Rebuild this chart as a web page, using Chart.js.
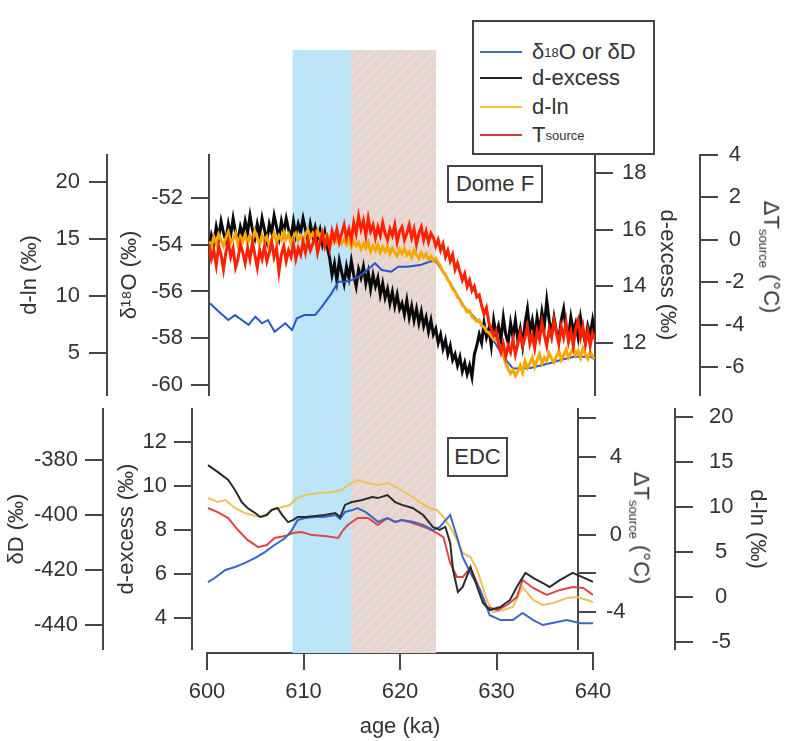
<!DOCTYPE html>
<html>
<head>
<meta charset="utf-8">
<script src="https://cdn.jsdelivr.net/npm/chart.js@4.4.1/dist/chart.umd.min.js"></script>
<style>
body { margin: 0; background: #fff; }
#wrap { position: relative; width: 789px; height: 741px; font-family: "Liberation Sans", Arial, sans-serif; color: #333; }
#wrap canvas { position: absolute; left: 0; top: 0; }
.box { position: absolute; border: 2px solid #444; background: #fff; box-sizing: border-box; font-size: 22px; }
.tag { display: flex; align-items: center; justify-content: center; }
.row { position: absolute; left: 6px; height: 26px; display: flex; align-items: center; white-space: nowrap; }
.swatch { width: 42px; height: 2px; margin-right: 10px; }
.rot { position: absolute; font-size: 22px; white-space: nowrap; transform: translate(-50%, -50%) rotate(90deg); }
sub, sup { font-size: 13px; }
</style>
</head>
<body>
<div id="wrap">
  <canvas id="bands" width="789" height="741"></canvas>
  <canvas id="edc" width="789" height="741"></canvas>
  <canvas id="domef" width="789" height="741"></canvas>

  <div class="box" style="left:472px;top:20px;width:183px;height:135px;">
    <div class="row" style="top:17px;"><div class="swatch" style="background:#3d6cc6"></div>&delta;<sup>18</sup>O or &delta;D</div>
    <div class="row" style="top:43px;"><div class="swatch" style="background:#222"></div>d-excess</div>
    <div class="row" style="top:72px;"><div class="swatch" style="background:#efc23f"></div>d-ln</div>
    <div class="row" style="top:100px;"><div class="swatch" style="background:#d23a3a"></div>T<sub>source</sub></div>
  </div>
  <div class="box tag" style="left:447px;top:165px;width:96px;height:38px;">Dome F</div>
  <div class="box tag" style="left:447px;top:437px;width:61px;height:40px;">EDC</div>
  <div class="rot" style="left:770px;top:257px;">&Delta;T<sub>source</sub> (&deg;C)</div>
  <div class="rot" style="left:640px;top:528px;">&Delta;T<sub>source</sub> (&deg;C)</div>
</div>

<script>
// shaded intervals (ka)
const BAND_START = [608.9, 614.9];
const BAND_END = [614.9, 623.7];

// ---- Dome F (top panel) ----
const DOME_AGE = [
  600, 600.25, 600.5, 600.75, 601, 601.25, 601.5, 601.75,
  602, 602.25, 602.5, 602.75, 603, 603.25, 603.5, 603.75,
  604, 604.25, 604.5, 604.75, 605, 605.25, 605.5, 605.75,
  606, 606.25, 606.5, 606.75, 607, 607.25, 607.5, 607.75,
  608, 608.25, 608.5, 608.75, 609, 609.25, 609.5, 609.75,
  610, 610.25, 610.5, 610.75, 611, 611.25, 611.5, 611.75,
  612, 612.25, 612.5, 612.75, 613, 613.25, 613.5, 613.75,
  614, 614.25, 614.5, 614.75, 615, 615.25, 615.5, 615.75,
  616, 616.25, 616.5, 616.75, 617, 617.25, 617.5, 617.75,
  618, 618.25, 618.5, 618.75, 619, 619.25, 619.5, 619.75,
  620, 620.25, 620.5, 620.75, 621, 621.25, 621.5, 621.75,
  622, 622.25, 622.5, 622.75, 623, 623.25, 623.5, 623.75,
  624, 624.25, 624.5, 624.75, 625, 625.25, 625.5, 625.75,
  626, 626.25, 626.5, 626.75, 627, 627.25, 627.5, 627.75,
  628, 628.25, 628.5, 628.75, 629, 629.25, 629.5, 629.75,
  630, 630.25, 630.5, 630.75, 631, 631.25, 631.5, 631.75,
  632, 632.25, 632.5, 632.75, 633, 633.25, 633.5, 633.75,
  634, 634.25, 634.5, 634.75, 635, 635.25, 635.5, 635.75,
  636, 636.25, 636.5, 636.75, 637, 637.25, 637.5, 637.75,
  638, 638.25, 638.5, 638.75, 639, 639.25, 639.5, 639.75,
  640];
const DOME_TSRC = [
  -0.2, -0.9, -0.5, -1.2, -0.3, -0.7, -1.4, -0.6,
  -0.1, -0.8, -0.4, -1.3, -0.9, -0.2, -0.6, -1.1,
  -0.4, -0.9, -0.1, -0.7, -1.3, -0.5, -0.9, -0.3,
  -1.0, -0.6, -0.1, -0.8, -0.4, -1.5, -0.7, -0.3,
  -1.0, -0.5, -0.8, -0.2, -0.9, -0.4, -0.7, -0.1,
  -0.6, 0.0, -0.5, -0.2, 0.2, -0.6, -0.1, 0.3,
  -0.3, 0.1, -0.4, 0.4, 0.0, 0.5, -0.1, 0.3,
  0.7, 0.1, 0.5, 0.0, 0.8, 0.3, 1.1, 0.5,
  0.9, 0.2, 1.0, 0.4, 0.7, 0.1, 0.6, 0.2,
  0.8, 0.3, 0.0, 0.5, 0.2, 0.7, -0.1, 0.4,
  0.6, 0.0, 0.3, 0.7, 0.1, 0.5, -0.2, 0.3,
  0.6, 0.0, 0.4, -0.1, 0.3, 0.1, -0.3, 0.0,
  -0.5, -0.2, -0.8, -0.5, -1.0, -0.7, -1.4, -1.1,
  -1.5, -1.9, -1.6, -2.2, -1.9, -2.4, -2.2, -2.7,
  -2.6, -3.1, -3.5, -3.2, -3.9, -4.2, -4.5, -4.3,
  -4.9, -5.3, -4.9, -5.5, -5.0, -5.3, -4.7, -5.4,
  -4.9, -4.4, -5.0, -4.6, -4.1, -4.9, -4.5, -5.1,
  -4.3, -4.7, -3.9, -4.5, -5.0, -4.2, -4.6, -3.8,
  -4.4, -4.9, -4.1, -4.6, -3.9, -4.8, -4.3, -5.0,
  -4.2, -3.8, -4.6, -4.1, -4.9, -4.3, -5.0, -4.4,
  -4.7];
const DOME_DLN = [
  14.8, 14.3, 15.2, 14.6, 15.4, 14.9, 14.4, 15.1,
  15.6, 14.7, 15.0, 15.5, 14.5, 15.2, 14.8, 15.4,
  14.6, 15.3, 14.9, 15.7, 15.1, 14.5, 15.3, 14.8,
  15.2, 14.4, 15.0, 15.5, 14.7, 15.3, 14.9, 15.6,
  15.0, 15.4, 14.6, 15.2, 15.5, 14.9, 15.3, 14.7,
  15.4, 15.8, 15.1, 15.5, 15.0, 15.7, 15.2, 15.6,
  14.9, 15.4, 15.1, 14.7, 15.3, 14.8, 15.2, 14.6,
  15.0, 14.5, 14.9, 14.3, 14.8, 14.4, 14.7, 14.1,
  14.6, 14.2, 14.7, 13.9, 14.4, 14.0, 14.5, 13.8,
  14.3, 13.9, 14.4, 13.7, 14.2, 13.8, 13.5, 14.1,
  13.7, 14.2, 13.6, 13.9, 13.4, 14.0, 13.6, 13.3,
  13.8, 13.4, 13.7, 13.2, 13.5, 13.1, 13.3, 12.9,
  12.6, 12.1, 11.9, 11.4, 11.1, 10.6, 10.4, 9.9,
  9.7, 9.2, 9.0, 8.6, 8.7, 8.2, 8.0, 7.8,
  7.9, 7.4, 7.3, 6.9, 6.8, 6.5, 6.2, 6.3,
  5.9, 5.4, 4.7, 4.1, 3.6, 3.2, 3.5, 3.0,
  3.4, 3.9, 3.3, 4.3, 3.7, 4.1, 4.6, 3.8,
  4.4, 4.9, 4.1, 4.6, 4.3, 5.0, 4.5, 4.2,
  4.7, 5.2, 4.4, 4.8, 5.3, 4.6, 5.0, 5.5,
  4.8, 5.2, 4.6, 5.4, 4.9, 4.5, 5.1, 4.7,
  4.5];
const DOME_DXS = [
  15.3, 15.8, 15.5, 16.1, 15.7, 16.3, 15.9, 15.6,
  16.2, 15.8, 16.4, 15.9, 15.6, 16.1, 15.8, 16.3,
  15.9, 16.5, 16.0, 15.7, 16.2, 15.8, 16.4, 16.0,
  15.6, 16.2, 15.9, 16.5, 16.1, 15.7, 16.3, 15.9,
  16.4, 16.0, 15.7, 16.3, 15.8, 16.2, 15.9, 16.4,
  16.0, 15.6, 16.2, 15.8, 16.1, 15.7, 16.0, 15.5,
  15.9, 15.4, 15.0, 14.4, 14.8, 14.2, 14.9, 14.5,
  14.1, 14.7, 14.3, 14.9, 14.4, 14.0, 14.6, 14.3,
  14.7, 14.1, 14.5, 13.9, 14.4, 14.0, 14.3, 13.7,
  14.1, 13.6, 13.9, 13.4, 13.8, 13.3, 13.7, 13.2,
  13.4, 13.0, 13.5, 12.9, 13.3, 12.8, 13.2, 12.7,
  13.1, 12.6, 12.9, 12.4, 12.8, 12.3, 12.5, 12.0,
  12.3, 11.8, 12.1, 11.6, 11.9, 11.4, 11.6, 11.2,
  11.5, 11.0, 11.3, 10.9, 11.2, 10.8, 11.6, 11.9,
  12.3, 12.0, 12.7, 12.2, 12.5, 11.9, 12.8, 12.3,
  12.6, 12.1, 12.9, 12.3, 12.0, 12.7, 12.2, 12.8,
  12.1, 12.5, 11.9, 12.7, 13.2, 12.4, 12.8, 12.2,
  12.9, 12.4, 13.1, 12.6, 13.5, 12.8, 12.3, 12.9,
  12.4, 12.1, 12.8, 13.2, 12.5, 12.2, 12.9, 12.4,
  12.7, 12.2, 12.9, 12.4, 12.0, 12.6, 12.3, 12.8,
  12.2];
const DOME_D18O_AGE = [600.1, 601.0, 602.0, 602.7, 603.4, 604.1, 604.8, 605.5, 606.1, 606.8,
  607.9, 608.6, 609.1, 609.9, 611.0, 611.7, 612.7, 613.4, 614.1, 614.8,
  615.5, 616.2, 617.2, 617.9, 618.9, 619.6, 620.5, 621.9, 622.9, 623.5,
  624.5, 625.5, 626.5, 627.5, 628.5, 629.5, 630.5, 631.5, 633.3, 635.3,
  636.4, 637.8, 639.5, 640.0];
const DOME_D18O = [-56.50, -56.86, -57.22, -57.01, -57.22, -57.43, -57.08, -57.36, -57.22, -57.72,
  -57.36, -57.65, -57.15, -57.01, -57.01, -56.65, -56.08, -55.58, -55.58, -55.51,
  -55.37, -55.15, -54.79, -55.08, -55.15, -54.94, -54.94, -54.87, -54.72, -54.70,
  -55.30, -56.00, -56.70, -57.10, -57.50, -58.10, -58.80, -59.30, -59.27, -59.07,
  -58.93, -58.79, -58.79, -58.90];

const DOME_D18O_TICKS = [-60, -58, -56, -54, -52];
const DOME_DLN_TICKS = [5, 10, 15, 20];
const DOME_DXS_TICKS = [12, 14, 16, 18];
const DOME_DT_TICKS = [-6, -4, -2, 0, 2, 4];

// ---- EDC (bottom panel) ----
const EDC_DXS_AGE = [600.1, 601.1, 602.2, 602.9, 603.6, 604.2, 605.0, 605.5, 606.2, 606.7,
  607.3, 607.8, 608.4, 608.9, 609.4, 610.2, 611.2, 612.2, 613.3, 613.8,
  614.3, 615.0, 616.1, 617.1, 617.7, 618.7, 619.5, 620.2, 621.3, 622.4,
  623.4, 624.1, 624.7, 625.2, 625.5, 626.0, 626.5, 627.3, 628.0, 628.6,
  629.3, 630.4, 631.4, 632.1, 633.0, 633.8, 634.8, 635.5, 636.6, 637.9, 638.9, 640.0];
const EDC_DXS = [10.95, 10.64, 10.27, 9.82, 9.27, 9.0, 8.77, 8.59, 8.68, 8.91,
  9.0, 8.68, 8.36, 8.45, 8.59, 8.59, 8.64, 8.68, 8.77, 8.59,
  9.14, 9.27, 9.36, 9.5, 9.45, 9.59, 9.27, 9.14, 9.0, 8.68,
  8.14, 8.0, 8.14, 7.41, 6.18, 5.18, 5.41, 6.32, 5.41, 4.68,
  4.36, 4.5, 4.82, 5.41, 6.05, 5.82, 5.59, 5.41, 5.73, 6.05, 5.86, 5.64];
const EDC_DLN_AGE = [600.1, 601.1, 601.9, 602.9, 603.9, 605.0, 605.8, 606.7, 607.8, 608.6,
  609.3, 610.2, 611.5, 613.0, 614.0, 614.6, 615.6, 616.7, 617.7, 618.8,
  619.8, 621.3, 622.8, 623.8, 624.5, 625.2, 625.9, 626.5, 627.3, 628.0,
  629.0, 629.6, 630.7, 631.7, 632.7, 633.8, 634.8, 635.9, 637.3, 638.3, 639.4, 640.0];
const EDC_DLN = [11.0, 10.56, 10.78, 9.89, 9.33, 9.0, 8.89, 9.67, 10.0, 10.22,
  11.0, 11.33, 11.56, 11.67, 11.89, 12.44, 13.0, 12.67, 12.44, 12.67,
  12.11, 11.11, 10.0, 9.67, 8.89, 7.78, 6.33, 4.89, 4.44, 3.0,
  -0.33, -1.67, -1.44, -1.11, 1.11, -0.33, -0.89, -0.67, -0.11, 0.0, -0.33, -0.56];
const EDC_DT_AGE = [600.1, 601.1, 602.2, 603.2, 604.2, 605.3, 606.2, 607.0, 608.1, 608.9,
  609.8, 610.9, 612.2, 613.6, 614.1, 614.6, 615.6, 616.7, 617.7, 618.7,
  619.5, 620.2, 621.3, 622.8, 623.8, 624.5, 625.2, 625.9, 626.5, 627.3,
  628.0, 629.0, 630.1, 631.1, 632.1, 632.7, 633.8, 635.2, 636.6, 637.9, 639.0, 640.0];
const EDC_DT = [1.37, 1.16, 0.85, 0.23, -0.28, -0.65, -0.54, -0.18, -0.08, 0.08,
  0.13, -0.03, -0.08, -0.18, 0.23, 0.49, 0.85, 0.85, 0.49, 0.85,
  0.65, 0.75, 0.59, 0.34, 0.08, -0.13, -1.47, -2.19, -2.19, -1.73,
  -2.5, -3.74, -3.9, -3.64, -3.23, -2.35, -2.76, -3.12, -2.86, -2.71, -2.76, -3.12];
const EDC_DD_AGE = [600.1, 600.8, 601.9, 602.9, 603.9, 605.0, 606.0, 607.0, 608.1, 608.8,
  609.4, 610.2, 611.2, 612.2, 613.3, 613.8, 614.3, 615.1, 615.6, 616.4,
  617.1, 617.7, 618.7, 619.5, 620.2, 621.3, 622.4, 623.4, 624.1, 625.2,
  626.0, 626.5, 627.3, 628.3, 629.3, 630.4, 631.7, 632.7, 633.8, 634.8,
  636.3, 637.3, 638.7, 640.0];
const EDC_DD = [-424.4, -422.9, -420.0, -418.9, -417.5, -415.6, -413.5, -410.9, -408.4, -405.5,
  -401.8, -401.1, -400.7, -400.7, -400.0, -401.5, -398.9, -398.2, -397.5, -398.9,
  -400.7, -402.5, -401.1, -402.5, -401.8, -402.5, -403.6, -405.5, -404.4, -400.0,
  -409.1, -415.3, -421.1, -427.3, -436.4, -438.2, -438.2, -435.6, -438.2, -440.0,
  -438.9, -438.2, -439.3, -439.3];

const EDC_DD_TICKS = [-440, -420, -400, -380];
const EDC_DXS_TICKS = [4, 6, 8, 10, 12];
const EDC_DT_TICKS = [-4, -2, 0, 2, 4, 6];
const EDC_DT_LABELS = [-4, 0, 4];
const EDC_DLN_TICKS = [-5, 0, 5, 10, 15, 20];
const AGE_TICKS = [600, 610, 620, 630, 640];

const AXIS = '#474747';
Chart.defaults.font.family = '"Liberation Sans", Arial, sans-serif';
Chart.defaults.font.size = 22;
Chart.defaults.color = '#333';

const pts = (xs, ys) => xs.map((x, i) => ({ x: x, y: ys[i] }));

function yAxis(position, weight, min, max, tickValues, width, tickPad, title, titlePad, labelValues) {
    return {
        type: 'linear',
        position: position,
        weight: weight,
        min: min,
        max: max,
        afterFit: s => { s.width = width; },
        afterBuildTicks: s => { s.ticks = tickValues.map(v => ({ value: v })); },
        border: { display: true, color: AXIS, width: 2 },
        grid: { drawOnChartArea: false, drawTicks: true, tickLength: 18, color: AXIS, lineWidth: 2 },
        ticks: {
            padding: tickPad,
            autoSkip: false,
            crossAlign: position === 'right' ? 'center' : 'near',
            callback: v => (!labelValues || labelValues.includes(v)) ? String(v) : ''
        },
        title: title ? { display: true, text: title, padding: { top: titlePad, bottom: 0 } } : { display: false }
    };
}

const baseOptions = {
    responsive: false,
    animation: false,
    devicePixelRatio: 1,
    plugins: { legend: { display: false }, tooltip: { enabled: false } },
    elements: { point: { radius: 0 }, line: { tension: 0 } }
};

// in the EDC panel the y-axes sit 15 px left of the age axis
const shiftAxes = {
    id: 'shiftAxes',
    afterLayout(chart) {
        Object.values(chart.scales).forEach(s => {
            if (s.axis === 'y') {
                s.left -= 15;
                s.right -= 15;
            }
        });
    }
};

// hatch for the second interval
const hatchCanvas = document.createElement('canvas');
hatchCanvas.width = 10;
hatchCanvas.height = 10;
const hc = hatchCanvas.getContext('2d');
hc.fillStyle = '#e0dcde';
hc.fillRect(0, 0, 10, 10);
hc.strokeStyle = '#f1cfc1';
hc.lineWidth = 3;
hc.beginPath();
hc.moveTo(-5, 5); hc.lineTo(5, -5);
hc.moveTo(0, 10); hc.lineTo(10, 0);
hc.moveTo(5, 15); hc.lineTo(15, 5);
hc.stroke();
const hatch = hc.createPattern(hatchCanvas, 'repeat');

// background: intervals + age axis
new Chart(document.getElementById('bands'), {
    type: 'bar',
    data: {
        labels: ['band'],
        datasets: [
            { data: [[BAND_START[0], BAND_END[0]]], backgroundColor: '#bde5f8' },
            { data: [[BAND_START[1], BAND_END[1]]], backgroundColor: hatch }
        ]
    },
    options: {
        ...baseOptions,
        indexAxis: 'y',
        layout: { padding: { left: 207, right: 196, top: 50, bottom: 0 } },
        datasets: { bar: { grouped: false, barPercentage: 1, categoryPercentage: 1, borderWidth: 0 } },
        scales: {
            x: {
                type: 'linear',
                min: 600,
                max: 640,
                afterFit: s => { s.height = 88; },
                afterBuildTicks: s => { s.ticks = AGE_TICKS.map(v => ({ value: v })); },
                border: { display: true, color: AXIS, width: 2 },
                grid: { drawOnChartArea: false, drawTicks: true, tickLength: 17, color: AXIS, lineWidth: 2 },
                ticks: { padding: 9, maxRotation: 0 },
                title: { display: true, text: 'age (ka)', padding: { top: 0, bottom: 1 } }
            },
            y: { type: 'category', display: false }
        }
    }
});

// EDC panel
new Chart(document.getElementById('edc'), {
    type: 'line',
    data: {
        datasets: [
            { data: pts(EDC_DXS_AGE, EDC_DXS), yAxisID: 'yDx', borderColor: '#2b2b2b', borderWidth: 2 },
            { data: pts(EDC_DD_AGE, EDC_DD), yAxisID: 'yD', borderColor: '#3c66c4', borderWidth: 2 },
            { data: pts(EDC_DT_AGE, EDC_DT), yAxisID: 'yT', borderColor: '#d8474a', borderWidth: 2 },
            { data: pts(EDC_DLN_AGE, EDC_DLN), yAxisID: 'yLn', borderColor: '#eac35a', borderWidth: 2 }
        ]
    },
    plugins: [shiftAxes],
    options: {
        ...baseOptions,
        layout: { padding: { left: 0, right: 0, top: 409, bottom: 92 } },
        scales: {
            x: { type: 'linear', min: 600, max: 640, display: false },
            yD: yAxis('left', 1, -448.7, -361.5, EDC_DD_TICKS, 118, 7, '\u03b4D (\u2030)', 19),
            yDx: yAxis('left', 0, 2.59, 13.5, EDC_DXS_TICKS, 89, 7, 'd-excess (\u2030)', 11),
            yT: yAxis('right', 0, -5.91, 6.48, EDC_DT_TICKS, 97, 10, null, 0, EDC_DT_LABELS),
            yLn: yAxis('right', 1, -5.78, 20.89, EDC_DLN_TICKS, 99, 16, 'd-ln (\u2030)', 4)
        }
    }
});

// Dome F panel
new Chart(document.getElementById('domef'), {
    type: 'line',
    data: {
        datasets: [
            { data: pts(DOME_AGE, DOME_TSRC), yAxisID: 'yT', borderColor: '#ff2000', borderWidth: 3 },
            { data: pts(DOME_AGE, DOME_DLN), yAxisID: 'yLn', borderColor: '#f6a800', borderWidth: 3 },
            { data: pts(DOME_D18O_AGE, DOME_D18O), yAxisID: 'yO', borderColor: '#2a56c6', borderWidth: 2 },
            { data: pts(DOME_AGE, DOME_DXS), yAxisID: 'yDx', borderColor: '#0a0a0a', borderWidth: 3 }
        ]
    },
    options: {
        ...baseOptions,
        layout: { padding: { left: 0, right: 0, top: 155, bottom: 346 } },
        scales: {
            x: { type: 'linear', min: 600, max: 640, display: false },
            yLn: yAxis('left', 1, 1.32, 22.37, DOME_DLN_TICKS, 107, 9, 'd-ln (\u2030)', 17),
            yO: yAxis('left', 0, -60.43, -50.16, DOME_D18O_TICKS, 102, 8, '\u03b4\u00b9\u2078O (\u2030)', 10),
            yDx: yAxis('right', 0, 10.16, 18.64, DOME_DXS_TICKS, 105, 9, 'd-excess (\u2030)', 20),
            yT: yAxis('right', 1, -7.32, 4.0, DOME_DT_TICKS, 89, 7, null, 0)
        }
    }
});
</script>
</body>
</html>
